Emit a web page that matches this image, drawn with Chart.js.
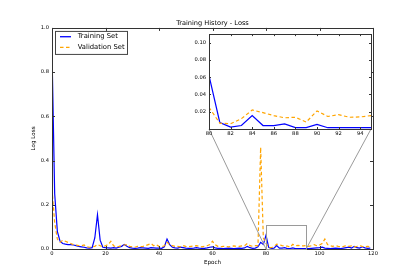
<!DOCTYPE html>
<html><head><meta charset="utf-8">
<script src="https://cdn.jsdelivr.net/npm/chart.js@4"></script>
<style>
html,body{margin:0;padding:0;background:#fff;}
#wrap{position:relative;width:415px;height:277px;overflow:hidden;background:#fff;}
#main{position:absolute;left:0;top:0;}
#inset{position:absolute;left:185px;top:28px;}
</style></head>
<body>
<div id="wrap">
<canvas id="main" width="415" height="277"></canvas>
<canvas id="inset" width="195" height="115"></canvas>
</div>
<script>
const epochs = Array.from({length:120},(_,i)=>i);
const trainLoss = [
0.89,0.25,0.08,0.035,0.025,0.022,0.02,0.02,0.018,0.015,
0.012,0.01,0.008,0.005,0.004,0.006,0.05,0.155,0.04,0.008,
0.006,0.005,0.004,0.006,0.004,0.008,0.012,0.02,0.012,0.006,
0.004,0.003,0.004,0.006,0.005,0.004,0.003,0.006,0.005,0.004,
0.004,0.003,0.01,0.045,0.02,0.008,0.005,0.004,0.008,0.006,
0.004,0.003,0.003,0.004,0.006,0.004,0.003,0.003,0.005,0.008,
0.01,0.005,0.003,0.003,0.002,0.003,0.004,0.003,0.002,0.003,
0.004,0.003,0.005,0.012,0.006,0.003,0.004,0.01,0.03,0.02,
0.062,0.0076,0.0023,0.004,0.0155,0.004,0.004,0.006,0.0016,0.0016,
0.0053,0.0015,0.0015,0.0015,0.0015,0.0015,0.002,0.003,0.004,0.005,
0.006,0.008,0.004,0.003,0.002,0.003,0.004,0.003,0.002,0.004,
0.006,0.008,0.004,0.012,0.006,0.004,0.01,0.005,0.003,0.004
];
const valLoss = [
0.27,0.12,0.045,0.03,0.04,0.035,0.03,0.025,0.02,0.018,
0.015,0.015,0.018,0.01,0.008,0.01,0.012,0.02,0.015,0.01,
0.015,0.02,0.035,0.015,0.01,0.012,0.015,0.018,0.02,0.012,
0.01,0.008,0.012,0.01,0.012,0.015,0.02,0.025,0.015,0.02,
0.012,0.01,0.015,0.03,0.02,0.015,0.012,0.012,0.01,0.015,
0.012,0.01,0.012,0.014,0.015,0.012,0.01,0.012,0.015,0.02,
0.035,0.02,0.012,0.01,0.012,0.012,0.01,0.012,0.014,0.012,
0.012,0.014,0.015,0.025,0.015,0.012,0.015,0.015,0.46,0.05,
0.025,0.0068,0.006,0.012,0.022,0.019,0.0155,0.013,0.0136,0.008,
0.021,0.0145,0.0166,0.0136,0.014,0.0155,0.012,0.015,0.02,0.015,
0.018,0.025,0.045,0.02,0.015,0.012,0.015,0.012,0.01,0.012,
0.015,0.012,0.014,0.01,0.012,0.015,0.012,0.01,0.012,0.01
];
const seriesNames = ['Training Set','Validation Set'];
const seriesColors = ['#0000ff','#ffa500'];
const mainXTicks = [0,20,40,60,80,100,120];
const mainYTicks = [0,0.2,0.4,0.6,0.8,1.0];
const insetXTicks = [80,82,84,86,88,90,92,94];
const insetYTicks = [0.02,0.04,0.06,0.08,0.10];
const zoomX = [80,95];
const zoomY = [0,0.11];

const pts = arr => epochs.map((e,i)=>({x:e,y:arr[i]}));
const FONT = 'DejaVu Sans';
const DASH = [3.5,2.5];

function makeDatasets(){
  return [
    {label:seriesNames[0],data:pts(trainLoss),borderColor:seriesColors[0],borderWidth:1.2,pointRadius:0,tension:0,order:1,fill:false},
    {label:seriesNames[1],data:pts(valLoss),borderColor:seriesColors[1],borderWidth:1.2,borderDash:DASH,pointRadius:0,tension:0,order:0,fill:false}
  ];
}

function tickPlugin(len, bg){
  return {
    id:'frame',
    beforeDatasetsDraw(chart){
      const a = chart.chartArea, c = chart.ctx;
      if(bg){ c.save(); c.fillStyle='#fff'; c.fillRect(a.left,a.top,a.right-a.left,a.bottom-a.top); c.restore(); }
    },
    afterDatasetsDraw(chart){
      const a = chart.chartArea, c = chart.ctx, xs = chart.scales.x, ys = chart.scales.y;
      c.save();
      c.strokeStyle='#333'; c.lineWidth=1;
      c.beginPath();
      xs.ticks.forEach(t=>{ const px = Math.round(xs.getPixelForValue(t.value))+0.5;
        c.moveTo(px,a.bottom); c.lineTo(px,a.bottom-len); c.moveTo(px,a.top); c.lineTo(px,a.top+len); });
      ys.ticks.forEach(t=>{ const py = Math.round(ys.getPixelForValue(t.value))+0.5;
        c.moveTo(a.left,py); c.lineTo(a.left+len,py); c.moveTo(a.right,py); c.lineTo(a.right-len,py); });
      c.stroke();
      c.strokeRect(Math.round(a.left)+0.5,Math.round(a.top)+0.5,Math.round(a.right-a.left),Math.round(a.bottom-a.top));
      c.restore();
    }
  };
}

// Inset chart
const insetCanvas = document.getElementById('inset');
const inset = new Chart(insetCanvas,{
  type:'line',
  data:{datasets:makeDatasets()},
  options:{
    responsive:false,animation:false,devicePixelRatio:1,
    layout:{padding:{left:0,right:9,top:4,bottom:0}},
    plugins:{legend:{display:false},tooltip:{enabled:false},title:{display:false}},
    scales:{
      x:{type:'linear',min:zoomX[0],max:zoomX[1],
        afterBuildTicks:s=>{s.ticks=insetXTicks.map(v=>({value:v}));},
        afterFit:s=>{s.height=14;},
        grid:{display:false,drawTicks:false},border:{display:false},
        ticks:{padding:2,font:{family:FONT,size:5.2},color:'#000',maxRotation:0,autoSkip:false,callback:v=>String(v)}},
      y:{type:'linear',min:zoomY[0],max:zoomY[1],
        afterBuildTicks:s=>{s.ticks=insetYTicks.map(v=>({value:v}));},
        afterFit:s=>{s.width=24;},
        grid:{display:false,drawTicks:false},border:{display:false},
        ticks:{padding:3,font:{family:FONT,size:5.2},color:'#000',autoSkip:false,callback:v=>v.toFixed(2)}}
    }
  },
  plugins:[tickPlugin(2,true)]
});

const insetOffX = 185, insetOffY = 28;

const connectorPlugin = {
  id:'zoomMark',
  afterDatasetsDraw(chart){
    const xs = chart.scales.x, ys = chart.scales.y, c = chart.ctx;
    const x0 = xs.getPixelForValue(zoomX[0]), x1 = xs.getPixelForValue(zoomX[1]);
    const y0 = ys.getPixelForValue(zoomY[0]), y1 = ys.getPixelForValue(zoomY[1]);
    const ia = inset.chartArea;
    c.save();
    c.strokeStyle='#9a9a9a'; c.lineWidth=1;
    c.strokeRect(Math.round(x0)+0.5,Math.round(y1)+0.5,Math.round(x1-x0),Math.round(y0-y1));
    c.beginPath();
    c.moveTo(x0,y0); c.lineTo(insetOffX+ia.left,insetOffY+ia.bottom);
    c.moveTo(x1,y0); c.lineTo(insetOffX+ia.right,insetOffY+ia.bottom);
    c.stroke();
    c.restore();
  }
};

const legendPlugin = {
  id:'boxLegend',
  afterDraw(chart){
    const c = chart.ctx, a = chart.chartArea;
    const bx = a.left + 3.5, by = a.top + 3.5, bw = 72, bh = 23;
    c.save();
    c.fillStyle = '#fff'; c.fillRect(bx,by,bw,bh);
    c.strokeStyle = '#444'; c.lineWidth = 1; c.strokeRect(bx,by,bw,bh);
    c.font = '6.8px "DejaVu Sans"'; c.textBaseline = 'middle'; c.textAlign = 'left';
    chart.data.datasets.forEach((ds,i)=>{
      const cy = by + 5.3 + i*10.6;
      c.strokeStyle = ds.borderColor; c.lineWidth = 1.3;
      c.setLineDash(ds.borderDash || []);
      c.beginPath(); c.moveTo(bx+4.5,cy); c.lineTo(bx+15.5,cy); c.stroke();
      c.setLineDash([]);
      c.fillStyle = '#000'; c.fillText(ds.label, bx+22.2, cy);
    });
    c.restore();
  }
};

const main = new Chart(document.getElementById('main'),{
  type:'line',
  data:{datasets:makeDatasets()},
  options:{
    responsive:false,animation:false,devicePixelRatio:1,
    layout:{padding:{left:0,right:42,top:0,bottom:0}},
    plugins:{
      legend:{display:false},tooltip:{enabled:false},
      title:{display:true,text:'Training History - Loss',fullSize:false,color:'#000',
        font:{family:FONT,size:6.6,weight:'normal'},padding:{top:19,bottom:1}}
    },
    scales:{
      x:{type:'linear',min:0,max:120,
        afterBuildTicks:s=>{s.ticks=mainXTicks.map(v=>({value:v}));},
        afterFit:s=>{s.height=28;},
        grid:{display:false,drawTicks:false},border:{display:false},
        ticks:{padding:2,font:{family:FONT,size:5.2},color:'#000',maxRotation:0,autoSkip:false,callback:v=>String(v)},
        title:{display:true,text:'Epoch',color:'#000',font:{family:FONT,size:5.6},padding:{top:0,bottom:10.6}}},
      y:{type:'linear',min:0,max:1,
        afterBuildTicks:s=>{s.ticks=mainYTicks.map(v=>({value:v}));},
        afterFit:s=>{s.width=52;},
        grid:{display:false,drawTicks:false},border:{display:false},
        ticks:{padding:3,font:{family:FONT,size:5.2},color:'#000',autoSkip:false,callback:v=>v.toFixed(1)},
        title:{display:true,text:'Log Loss',color:'#000',font:{family:FONT,size:5.6},padding:{top:30.6,bottom:0}}}
    }
  },
  plugins:[tickPlugin(3,false),connectorPlugin,legendPlugin]
});
</script>
</body></html>
